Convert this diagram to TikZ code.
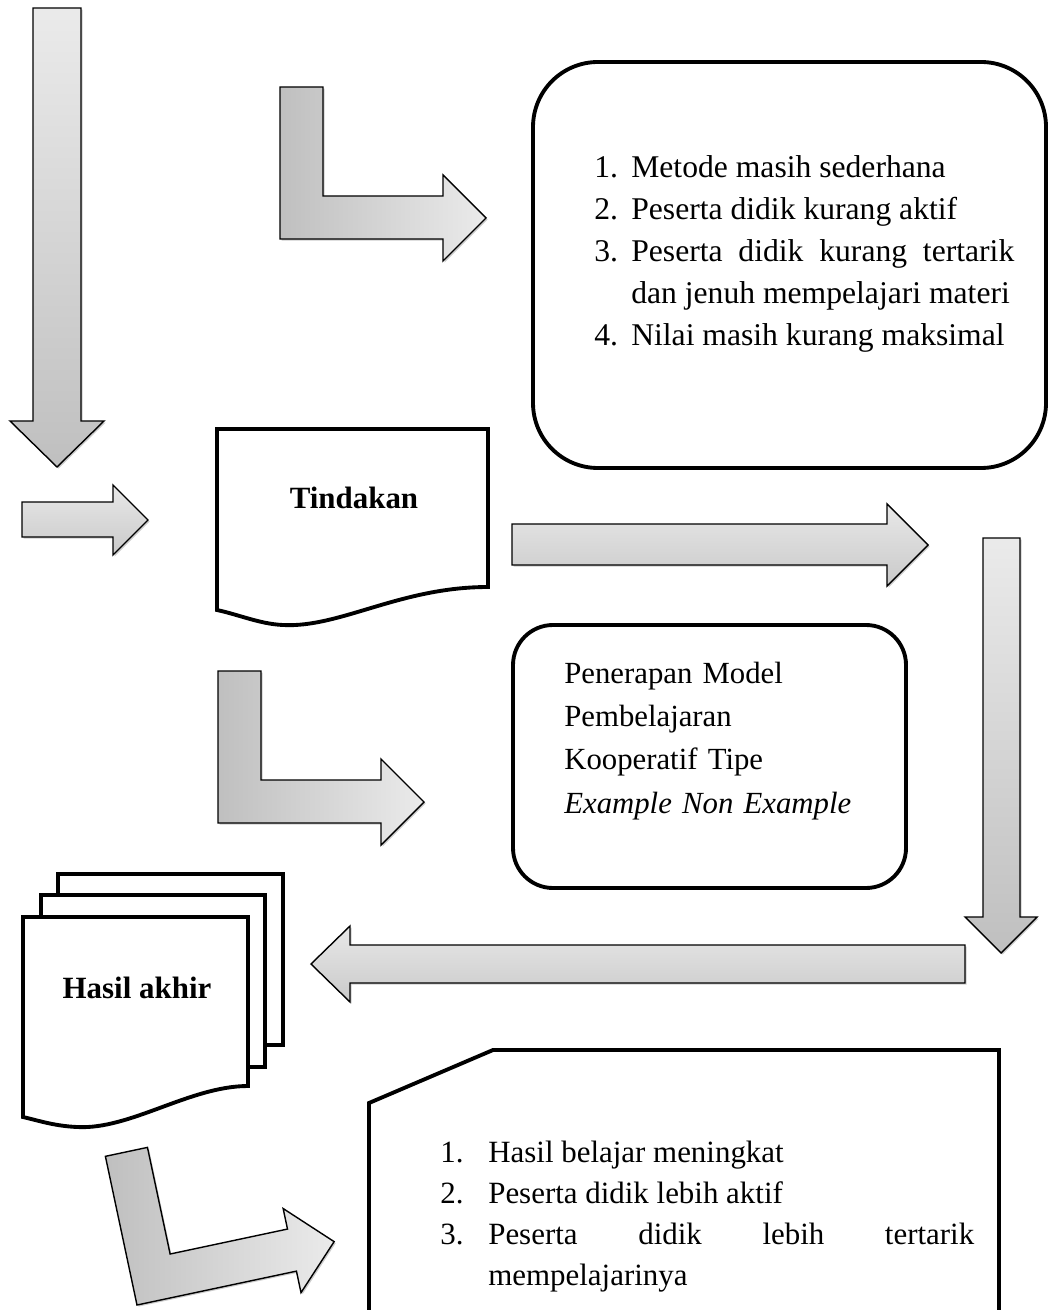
\documentclass[tikz,border=0pt]{standalone}
\usepackage{fontspec}
\setmainfont{Liberation Serif}
\usetikzlibrary{shadows}
\hyphenpenalty=10000
\tolerance=10000

\tikzset{
  panah/.style={draw=black, line width=0.8pt, line join=miter,
    drop shadow={shadow xshift=0.9pt, shadow yshift=-0.9pt, fill=black!40, opacity=0.5}},
  panahv/.style={panah, top color=gray!16, bottom color=gray!50},
  panahh/.style={panah, top color=gray!18, bottom color=gray!42},
  panahb/.style={panah, left color=gray!50, right color=gray!16},
  kotak/.style={draw=black, line width=2.2pt, fill=white},
  isi/.style={inner sep=0pt, font=\fontsize{17.5}{24.7}\selectfont},
  judul/.style={inner sep=0pt, font=\fontsize{17.6}{21}\selectfont\bfseries},
}
% item with hanging number
\newcommand{\butir}[2]{\noindent\hangindent=#1\hangafter=1\makebox[#1][l]{#2}\ignorespaces}
% bent arrow, origin at the outer corner
\newcommand{\panahL}{(0,0) -- (0,-152) -- (43,-152) -- (43,-43) -- (163,-43) -- (163,-64)
  -- (206,-21) -- (163,22) -- (163,0) -- cycle}

\begin{document}
\begin{tikzpicture}[x=0.02cm, y=-0.02cm]
    \useasboundingbox (0,0) rectangle (1049,1310);
    \clip (0,0) rectangle (1049,1310);

    % arrows on the left
    \draw[panahv] (33,8) -- (81,8) -- (81,421) -- (104,421) -- (57,467) -- (10,421) -- (33,421) -- cycle;
    \draw[panahh] (22,502) -- (113,502) -- (113,485) -- (148,520) -- (113,555) -- (113,537) -- (22,537) -- cycle;
    \begin{scope}[shift={(280,239)}]
        \draw[panahb] \panahL;
    \end{scope}

    % masalah
    \draw[kotak, rounded corners=1.3cm] (533,62) rectangle (1046,468);
    \node[isi, font=\fontsize{18}{23.9}\selectfont, anchor=base west, text width=8.4cm, align=justify]
        (masalah) at (594,178) {%
        \butir{0.74cm}{1.}Metode masih sederhana\par
        \butir{0.74cm}{2.}Peserta didik kurang aktif\par
        \butir{0.74cm}{3.}Peserta didik kurang tertarik dan jenuh mempelajari materi\par
        \butir{0.74cm}{4.}Nilai masih kurang maksimal\par};

    % tindakan
    \draw[kotak] (217,429) -- (488,429) -- (488,587) .. controls (400,587) and (340,628) .. (283,625)
        .. controls (260,624) and (240,615) .. (217,610) -- cycle;
    \node[judul] (tindakan) at (354,498) {Tindakan};

    \draw[panahh] (512,524) -- (887,524) -- (887,504) -- (928,545) -- (887,586) -- (887,565) -- (512,565) -- cycle;
    \draw[panahv] (983,538) -- (1020,538) -- (1020,917) -- (1037,917) -- (1001,953) -- (965,917) -- (983,917) -- cycle;

    \begin{scope}[shift={(218,823)}]
        \draw[panahb] \panahL;
    \end{scope}

    % model
    \draw[kotak, rounded corners=0.8cm] (513,625) rectangle (906,888);
    \node[isi, anchor=base west, text width=7cm, align=left] (model) at (564,683) {%
        Penerapan Model\\Pembelajaran\\Kooperatif Tipe\\\textit{Example Non Example}};

    \draw[panahh] (965,945) -- (350,945) -- (350,926) -- (311,964) -- (350,1002) -- (350,983) -- (965,983) -- cycle;

    % hasil akhir
    \draw[kotak] (58,874) rectangle (283,1045);
    \draw[kotak] (41,895) rectangle (265,1067);
    \draw[kotak] (23,917) -- (248,917) -- (248,1086) .. controls (190,1086) and (130,1130) .. (77,1127)
        .. controls (55,1126) and (40,1121) .. (23,1117) -- cycle;
    \node[judul] (hasil) at (137,988) {Hasil akhir};

    \begin{scope}[shift={(137,1305)}, rotate=12]
        \draw[panahb] \panahL;
    \end{scope}

    \draw[kotak] (493,1050) -- (999,1050) -- (999,1340) -- (369,1340) -- (369,1103) -- cycle;
    \node[isi, font=\fontsize{17.6}{23.4}\selectfont, anchor=base west, text width=10.68cm, align=justify]
        (capaian) at (440,1162) {%
        \butir{0.96cm}{1.}Hasil belajar meningkat\par
        \butir{0.96cm}{2.}Peserta didik lebih aktif\par
        \butir{0.96cm}{3.}Peserta didik lebih tertarik mempelajarinya\par};
\end{tikzpicture}
\end{document}
